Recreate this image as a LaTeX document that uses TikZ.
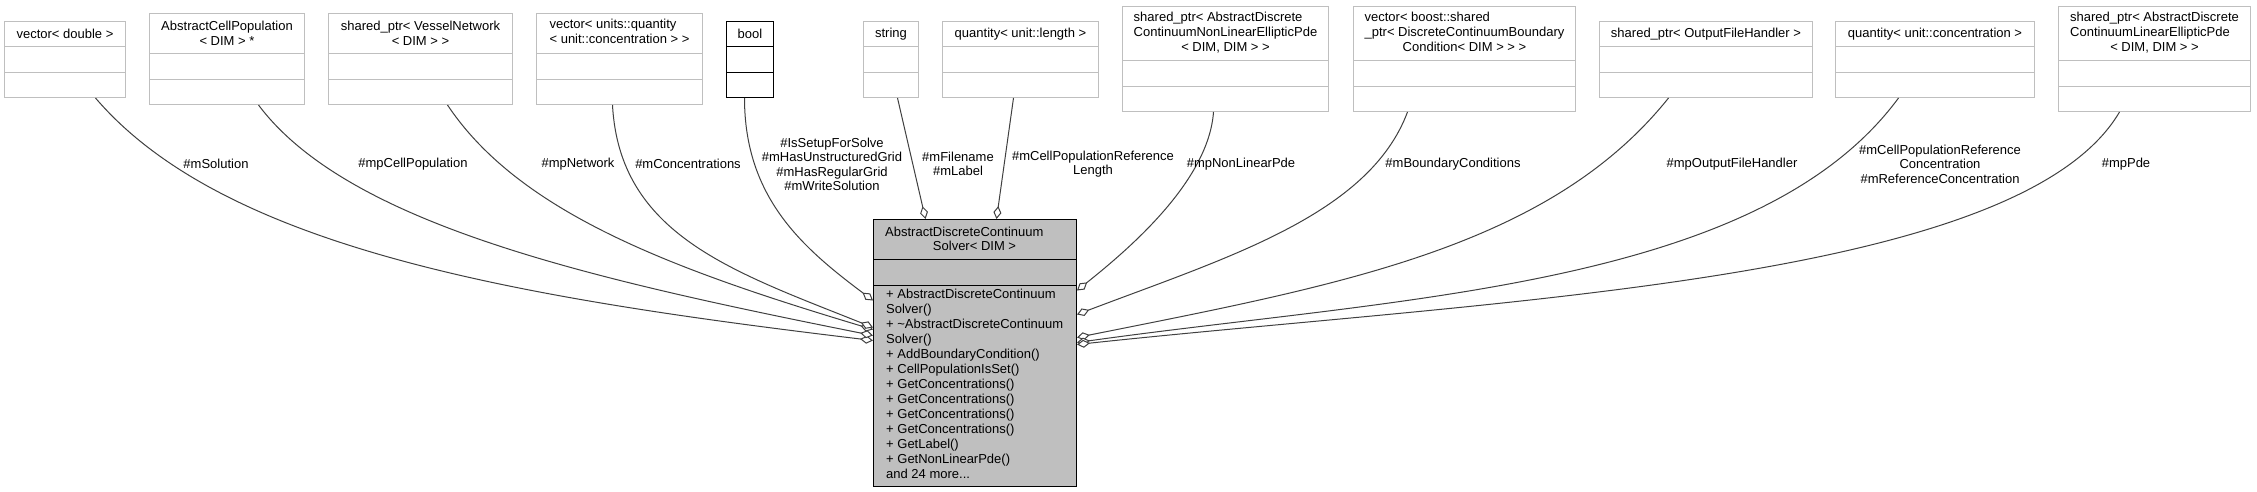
\documentclass[tikz,border=0pt]{standalone}
\usepackage{fontspec}
\setmainfont{Liberation Sans}
\usetikzlibrary{arrows.meta,calc}
\definecolor{boxgray}{HTML}{BFBFBF}
\definecolor{edgegray}{HTML}{404040}
\tikzset{
  cls/.style={fill=white, line width=1pt, inner sep=0pt, anchor=north west},
  hdr/.style={font=\fontsize{13}{15}\selectfont, inner sep=0pt, align=center},
  lbl/.style={font=\fontsize{13}{14.5}\selectfont, inner sep=0pt, align=center},
  rel/.style={draw=edgegray, line width=1pt, -{Diamond[length=13pt, width=8pt, fill=white]}},
}
\newcommand\lhdr[2]{\begin{tabular}{@{}l@{}}#1\\\multicolumn{1}{@{}c@{}}{#2}\end{tabular}}
% [colour] name x1 y1 x2 y2 text
\newcommand\umlcls[7][boxgray]{%
  \node[cls, draw=#1, minimum width={#5-#3}, minimum height={#6-#4}] (#2) at (#3,#4) {};
  \draw[line width=1pt, draw=#1] ([yshift=25.5pt]#2.south west) -- ([yshift=25.5pt]#2.south east);
  \draw[line width=1pt, draw=#1] ([yshift=51pt]#2.south west) -- ([yshift=51pt]#2.south east);
  \node[hdr] (#2-t) at ($(#2.north)!0.5!([yshift=51pt]#2.south)$) {#7};
}
\begin{document}
\begin{tikzpicture}[x=1pt, y=-1pt]
\fill[white] (0,0) rectangle (2257,492);
\useasboundingbox (0,0) rectangle (2257,492);

% member classes
\umlcls{vd}{4}{21}{125}{97}{vector< double >}
\umlcls{acp}{149}{13}{304}{104}{AbstractCellPopulation\\< DIM > *}
\umlcls{vn}{328}{13}{512}{104}{shared\_ptr< VesselNetwork\\< DIM > >}
\umlcls{vuq}{536}{13}{702}{104}{\lhdr{vector< units::quantity}{< unit::concentration > >}}
\umlcls[black]{bl}{726}{21}{773}{97}{bool}
\umlcls{str}{863}{21}{918}{97}{string}
\umlcls{qlen}{942}{21}{1098}{97}{quantity< unit::length >}
\umlcls{nlp}{1122}{6}{1328}{111}{\lhdr{shared\_ptr< AbstractDiscrete\\ContinuumNonLinearEllipticPde}{< DIM, DIM > >}}
\umlcls{bc}{1353}{6}{1575}{111}{\lhdr{vector< boost::shared\\\_ptr< DiscreteContinuumBoundary}{Condition< DIM > > >}}
\umlcls{ofh}{1599}{21}{1812}{97}{shared\_ptr< OutputFileHandler >}
\umlcls{qconc}{1835}{21}{2034}{97}{quantity< unit::concentration >}
\umlcls{lpde}{2058}{6}{2250}{111}{\lhdr{shared\_ptr< AbstractDiscrete\\ContinuumLinearEllipticPde}{< DIM, DIM > >}}

% main class
\node[draw=black, fill=boxgray, line width=1pt, inner sep=0pt, anchor=north west,
      minimum width=203pt, minimum height=267pt] (main) at (873,219) {};
\draw[line width=1pt] ([yshift=-40pt]main.north west) -- ([yshift=-40pt]main.north east);
\draw[line width=1pt] ([yshift=-66pt]main.north west) -- ([yshift=-66pt]main.north east);
\node[hdr, anchor=west] (main-t1) at (885,232) {AbstractDiscreteContinuum};
\node[hdr] (main-t2) at (974.5,246) {Solver< DIM >};
\node[hdr, align=left, anchor=north west] (main-m) at (886,289) {+ AbstractDiscreteContinuum\\Solver()\\+ \textasciitilde AbstractDiscreteContinuum\\Solver()\\+ AddBoundaryCondition()\\+ CellPopulationIsSet()\\+ GetConcentrations()\\+ GetConcentrations()\\+ GetConcentrations()\\+ GetConcentrations()\\+ GetLabel()\\+ GetNonLinearPde()\\and 24 more...};

% relations
\draw[rel] ([xshift=30.5pt]vd.south) .. controls +(130,152) and +(-350,-42) .. ([yshift=12.5pt]main.west);
\draw[rel] ([xshift=31.5pt]acp.south) .. controls +(90,120) and +(-280,-56) .. ([yshift=17.5pt]main.west);
\draw[rel] ([xshift=27pt]vn.south) .. controls +(72,108) and +(-200,-60) .. ([yshift=23.5pt]main.west);
\draw[rel] ([xshift=-7pt]vuq.south) .. controls +(7,130) and +(-140,-56) .. ([yshift=25.5pt]main.west);
\draw[rel] ([xshift=-5.5pt]bl.south) .. controls +(0,100) and +(-70,-52.5) .. ([yshift=52.5pt]main.west);
\draw[rel] ([xshift=6.5pt]str.south) -- ([xshift=-49.5pt]main.north);
\draw[rel] ([xshift=-7pt]qlen.south) -- ([xshift=21.5pt]main.north);
\draw[rel] ([xshift=-12pt]nlp.south) .. controls +(-5,70) and +(50,-40) .. ([yshift=62.5pt]main.east);
\draw[rel] ([xshift=-57pt]bc.south) .. controls +(-38.5,103) and +(150,-57) .. ([yshift=38.5pt]main.east);
\draw[rel] ([xshift=-37.5pt]ofh.south) .. controls +(-120,150) and +(260,-52) .. ([yshift=15.5pt]main.east);
\draw[rel] ([xshift=-36.5pt]qconc.south) .. controls +(-140,190) and +(320,-45) .. ([yshift=10.5pt]main.east);
\draw[rel] ([xshift=-35pt]lpde.south) .. controls +(-100,170) and +(420,-45) .. ([yshift=8.5pt]main.east);

% relation labels
\node[lbl] (l-sol) at (216,164) {\#mSolution};
\node[lbl] (l-cp) at (413,164) {\#mpCellPopulation};
\node[lbl] (l-net) at (578,164) {\#mpNetwork};
\node[lbl] (l-conc) at (688,164) {\#mConcentrations};
\node[lbl] (l-bool) at (832,164.5) {\#IsSetupForSolve\\\#mHasUnstructuredGrid\\\#mHasRegularGrid\\\#mWriteSolution};
\node[lbl] (l-str) at (958,164) {\#mFilename\\\#mLabel};
\node[lbl] (l-len) at (1093,164) {\#mCellPopulationReference\\Length};
\node[lbl] (l-nlp) at (1241,164) {\#mpNonLinearPde};
\node[lbl] (l-bc) at (1453,164) {\#mBoundaryConditions};
\node[lbl] (l-ofh) at (1732,164) {\#mpOutputFileHandler};
\node[lbl] (l-qc) at (1940,164) {\#mCellPopulationReference\\Concentration\\\#mReferenceConcentration};
\node[lbl] (l-pde) at (2126,164) {\#mpPde};
\end{tikzpicture}
\end{document}
